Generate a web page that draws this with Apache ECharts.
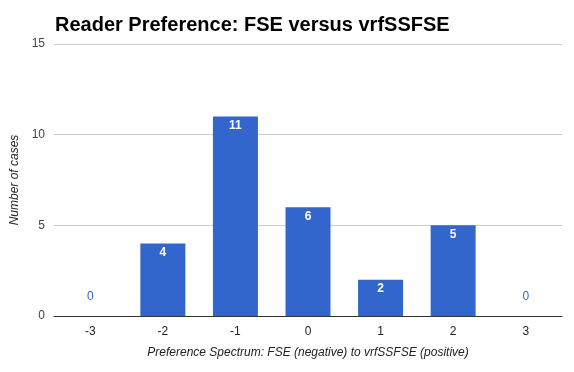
<!DOCTYPE html>
<html><head><meta charset="utf-8">
<script src="https://cdn.jsdelivr.net/npm/echarts@6/dist/echarts.min.js"></script>
<style>html,body{margin:0;padding:0;background:#fff}#c{width:574px;height:372px}</style>
</head><body><div id="c"></div>
<script>
const categories = ['-3','-2','-1','0','1','2','3'];
const cases = [0,4,11,6,2,5,0];
const yTicks = [0,5,10,15];

const chart = echarts.init(document.getElementById('c'));
const data = cases.map(v => v === 0 ? {
  value: v,
  label: {position: 'top', distance: 13, color: '#3366cc', fontWeight: 'normal'}
} : {value: v});
chart.setOption({
  animation: false,
  title: {
    text: 'Reader Preference: FSE versus vrfSSFSE',
    left: 50, top: 10,
    textStyle: {fontFamily: 'Liberation Sans, Arial', fontSize: 20, fontWeight: 'bold', color: '#000'}
  },
  grid: {left: 54, right: 12, top: 44, bottom: 56},
  xAxis: {
    type: 'category', data: categories,
    name: 'Preference Spectrum: FSE (negative) to vrfSSFSE (positive)',
    nameLocation: 'middle', nameGap: 31,
    nameTextStyle: {fontFamily: 'Liberation Sans, Arial', fontSize: 12, fontStyle: 'italic', color: '#222'},
    axisLine: {lineStyle: {color: '#333', width: 1}},
    axisTick: {show: false},
    axisLabel: {fontFamily: 'Liberation Sans, Arial', fontSize: 12, color: '#222', margin: 10}
  },
  yAxis: {
    type: 'value', min: yTicks[0], max: yTicks[yTicks.length-1], interval: 5,
    name: 'Number of cases', nameLocation: 'middle', nameGap: 27,
    nameTextStyle: {fontFamily: 'Liberation Sans, Arial', fontSize: 12, fontStyle: 'italic', color: '#222'},
    axisLine: {show: false}, axisTick: {show: false},
    axisLabel: {fontFamily: 'Liberation Sans, Arial', fontSize: 12, color: '#444', margin: 9},
    splitLine: {lineStyle: {color: '#cccccc'}}
  },
  series: [{
    type: 'bar', data: data, barWidth: 45,
    itemStyle: {color: '#3366cc'},
    label: {show: true, position: 'insideTop', distance: 3,
      fontFamily: 'Liberation Sans, Arial', fontSize: 12, fontWeight: 'bold', color: '#fff'}
  }]
});
</script></body></html>
